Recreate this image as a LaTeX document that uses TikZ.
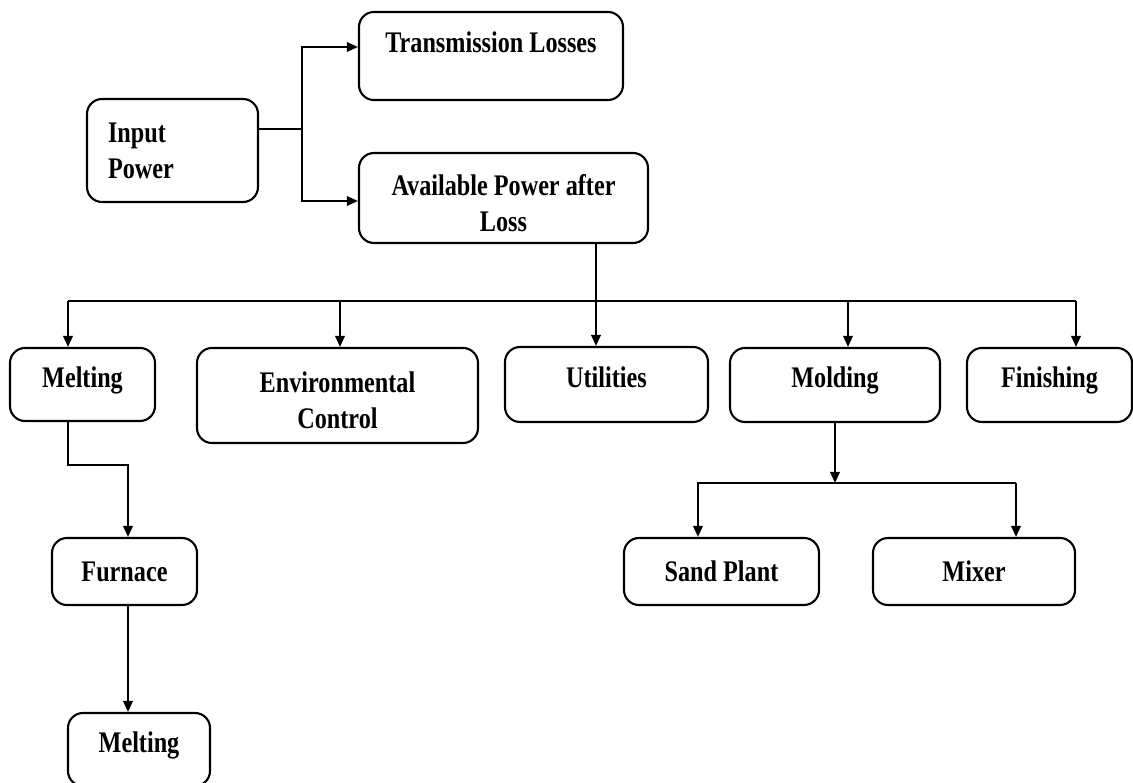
\documentclass[tikz,border=0pt]{standalone}
\usepackage{fontspec}
\setmainfont{Liberation Serif}[FakeStretch=0.81]
\usetikzlibrary{arrows.meta}

\begin{document}
\begin{tikzpicture}[
    box/.style={rectangle, draw, rounded corners=0.3cm, line width=1.2pt, align=center, inner sep=0pt, font=\bfseries\fontsize{17pt}{20.5pt}\selectfont},
    oneline/.style={text depth=0.3cm},
    twoline/.style={text height=1.33cm},
    arrow/.style={-{Triangle[length=0.22cm, width=0.19cm]}, line width=1.1pt},
    line/.style={line width=1.1pt}
]
    \useasboundingbox (0,0) rectangle (22.66,15.64);

    % Power supply
    \node[box, minimum width=3.42cm, minimum height=2.06cm, text width=2.58cm, align=left] (inpow) at (3.45,12.63) {Input\\Power};
    \node[box, minimum width=5.28cm, minimum height=1.76cm, text depth=0.57cm] (trans) at (9.82,14.52) {Transmission Losses};
    \node[box, twoline, minimum width=5.78cm, minimum height=1.80cm] (avail) at (10.07,11.68) {Available Power after\\Loss};

    % Consumers
    \node[box, oneline, minimum width=2.90cm, minimum height=1.46cm] (melt) at (1.65,7.95) {Melting};
    \node[box, twoline, minimum width=5.62cm, minimum height=1.90cm] (env) at (6.75,7.73) {Environmental\\Control};
    \node[box, oneline, minimum width=4.06cm, minimum height=1.50cm] (util) at (12.13,7.95) {Utilities};
    \node[box, oneline, minimum width=4.20cm, minimum height=1.48cm] (mold) at (16.70,7.94) {Molding};
    \node[box, oneline, minimum width=3.30cm, minimum height=1.48cm] (fin) at (20.99,7.94) {Finishing};

    % Sub-stages
    \node[box, minimum width=2.90cm, minimum height=1.34cm] (furn) at (2.49,4.21) {Furnace};
    \node[box, oneline, minimum width=2.84cm, minimum height=1.46cm] (melt2) at (2.78,0.65) {Melting};
    \node[box, minimum width=3.90cm, minimum height=1.34cm] (sand) at (14.43,4.21) {Sand Plant};
    \node[box, minimum width=4.04cm, minimum height=1.34cm] (mix) at (19.48,4.21) {Mixer};

    % Split of input power
    \coordinate (split) at (6.04,13.06);
    \coordinate (ta) at (6.04,14.70);
    \coordinate (aa) at (6.04,11.62);
    \draw[line] (inpow.east |- split) -- (split);
    \draw[arrow] (split) -- (ta) -- (ta -| trans.west);
    \draw[arrow] (split) -- (aa) -- (aa -| avail.west);

    % Distribution bus
    \coordinate (b1) at (1.36,9.62);
    \coordinate (b2) at (6.80,9.62);
    \coordinate (b3) at (11.92,9.62);
    \coordinate (b4) at (16.96,9.62);
    \coordinate (b5) at (21.52,9.62);
    \draw[line] (b1) -- (b5);
    \draw[arrow] (b3 |- avail.south) -- (b3 |- util.north);
    \draw[arrow] (b1) -- (b1 |- melt.north);
    \draw[arrow] (b2) -- (b2 |- env.north);
    \draw[arrow] (b4) -- (b4 |- mold.north);
    \draw[arrow] (b5) -- (b5 |- fin.north);

    % Melting chain
    \coordinate (k) at (2.56,6.34);
    \draw[arrow] (b1 |- melt.south) |- (k) -- (k |- furn.north);
    \draw[arrow] (k |- furn.south) -- (k |- melt2.north);

    % Molding chain
    \coordinate (sb) at (16.70,5.98);
    \coordinate (s1) at (13.96,5.98);
    \coordinate (s2) at (20.32,5.98);
    \draw[arrow] (mold.south) -- (sb);
    \draw[arrow] (s2) -- (s1) -- (s1 |- sand.north);
    \draw[arrow] (s2) -- (s2 |- mix.north);
\end{tikzpicture}
\end{document}
